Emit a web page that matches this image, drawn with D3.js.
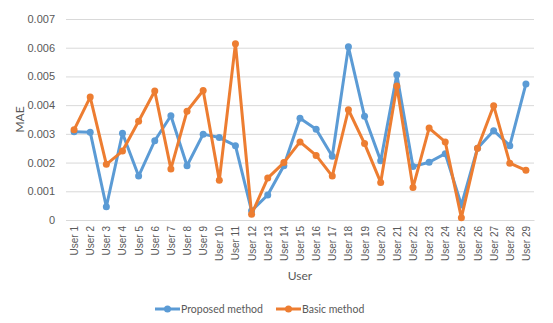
<!DOCTYPE html>
<html>
<head>
<meta charset="utf-8">
<script src="https://cdn.jsdelivr.net/npm/d3@7"></script>
<style>
  body { margin: 0; background: #fff; }
  svg { font-family: Lato, "Open Sans", sans-serif; }
  .grid line { stroke: #d9d9d9; }
  .tick text { fill: #595959; }
</style>
</head>
<body>
<div id="chart"></div>
<script>
const users = d3.range(1, 30).map(i => `User ${i}`);
const proposed = [0.00307, 0.00306, 0.00046, 0.00302, 0.00153, 0.00276, 0.00363, 0.00189, 0.00299, 0.00287,
  0.00259, 0.00032, 0.00087, 0.00189, 0.00354, 0.00316, 0.00222, 0.00603, 0.00361, 0.00206,
  0.00506, 0.00186, 0.00201, 0.00231, 0.00052, 0.0025, 0.00311, 0.00259, 0.00474];
const basic = [0.00314, 0.00428, 0.00194, 0.0024, 0.00344, 0.00449, 0.00178, 0.00379, 0.00451, 0.00138,
  0.00614, 0.0002, 0.00146, 0.002, 0.00272, 0.00225, 0.00153, 0.00384, 0.00266, 0.00131,
  0.00467, 0.00113, 0.0032, 0.00272, 0.00008, 0.0025, 0.00398, 0.00198, 0.00173];
const yTicks = [0, 0.001, 0.002, 0.003, 0.004, 0.005, 0.006, 0.007];
const series = [
  { name: "Proposed method", values: proposed, color: "#5b9bd5" },
  { name: "Basic method", values: basic, color: "#ed7d31" }
];

const width = 553, height = 323;
const margin = { left: 66, right: 19, top: 19, bottom: 103 };
const plotW = width - margin.left - margin.right;
const plotH = height - margin.top - margin.bottom;

const svg = d3.select("#chart").append("svg")
  .attr("width", width)
  .attr("height", height);

const x = d3.scalePoint().domain(users).range([0, plotW]).padding(0.5);
const y = d3.scaleLinear().domain([0, 0.007]).range([plotH, 0]);

const g = svg.append("g").attr("transform", `translate(${margin.left},${margin.top})`);

// gridlines + y labels
const yAxis = g.append("g").attr("class", "grid")
  .call(d3.axisLeft(y).tickValues(yTicks).tickSize(-plotW)
    .tickFormat(d => d === 0 ? "0" : d3.format(".3f")(d)).tickPadding(11));
yAxis.select(".domain").remove();
yAxis.selectAll("text").style("font-size", "11px");

// x labels
const xAxis = g.append("g").attr("transform", `translate(0,${plotH})`)
  .call(d3.axisBottom(x).tickSize(0));
xAxis.select(".domain").attr("stroke", "#d9d9d9");
xAxis.selectAll("text")
  .style("font-size", "10px")
  .attr("transform", "rotate(-90)")
  .attr("text-anchor", "end")
  .attr("x", -6)
  .attr("y", 0)
  .attr("dy", "0.35em");

const line = d3.line().x((d, i) => x(users[i])).y(d => y(d));

series.forEach(s => {
  g.append("path")
    .datum(s.values)
    .attr("fill", "none")
    .attr("stroke", s.color)
    .attr("stroke-width", 3)
    .attr("stroke-linejoin", "round")
    .attr("d", line);
  g.selectAll(null)
    .data(s.values)
    .enter().append("circle")
    .attr("cx", (d, i) => x(users[i]))
    .attr("cy", d => y(d))
    .attr("r", 3.5)
    .attr("fill", s.color);
});

// axis titles
svg.append("text")
  .attr("transform", `translate(24,${margin.top + plotH / 2}) rotate(-90)`)
  .attr("text-anchor", "middle")
  .style("font-size", "12px")
  .attr("fill", "#595959")
  .text("MAE");

svg.append("text")
  .attr("x", margin.left + plotW / 2)
  .attr("y", 280)
  .attr("text-anchor", "middle")
  .style("font-size", "12px")
  .attr("fill", "#595959")
  .text("User");

// legend
const legendX = [155, 276];
series.forEach((s, i) => {
  const lg = svg.append("g").attr("transform", `translate(${legendX[i]},309)`);
  lg.append("line").attr("x1", 0).attr("x2", 25).attr("y1", 0).attr("y2", 0)
    .attr("stroke", s.color).attr("stroke-width", 3);
  lg.append("circle").attr("cx", 12.5).attr("cy", 0).attr("r", 3.5).attr("fill", s.color);
  lg.append("text").attr("x", 26).attr("y", 0).attr("dy", "0.35em")
    .style("font-size", "10.5px").attr("fill", "#595959").text(s.name);
});
</script>
</body>
</html>
